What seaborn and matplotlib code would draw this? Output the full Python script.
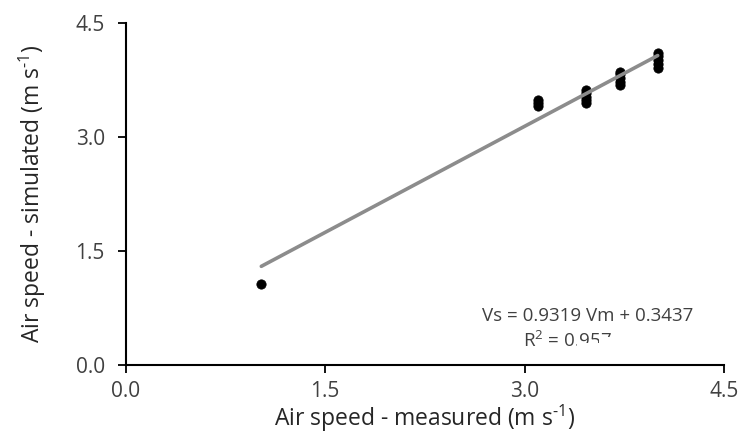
import numpy as np
import pandas as pd
import seaborn as sns
import matplotlib.pyplot as plt
from matplotlib.patches import Polygon

# measured vs simulated air speed (m s-1)
measured = [1.02,
            3.10, 3.10, 3.10,
            3.46, 3.46, 3.46, 3.46, 3.46,
            3.72, 3.72, 3.72, 3.72, 3.72,
            4.00, 4.00, 4.00, 4.00, 4.00]
simulated = [1.06,
             3.40, 3.44, 3.48,
             3.44, 3.49, 3.53, 3.58, 3.62,
             3.68, 3.72, 3.78, 3.83, 3.86,
             3.91, 3.96, 4.01, 4.06, 4.11]

slope = 0.9319
intercept = 0.3437
r2 = 0.957

df = pd.DataFrame({"measured": measured, "simulated": simulated})

sns.set_style("ticks")
plt.rcParams['font.family'] = ['Open Sans', 'DejaVu Sans']
plt.rcParams['mathtext.fontset'] = 'custom'
plt.rcParams['mathtext.rm'] = 'Open Sans'

fig, ax = plt.subplots(figsize=(7.39, 4.34), dpi=100)
fig.subplots_adjust(left=0.17, right=0.98, bottom=0.16, top=0.947)

# trend line from the reported equation
xl = np.array([min(measured), max(measured)])
ax.plot(xl, slope * xl + intercept, color="#8c8c8c", lw=2.6, zorder=3)
sns.scatterplot(data=df, x="measured", y="simulated", color="black",
                s=45, edgecolor="black", ax=ax, zorder=2)

ax.set_xlim(0, 4.5)
ax.set_ylim(0, 4.5)
ax.set_xticks([0, 1.5, 3.0, 4.5])
ax.set_yticks([0, 1.5, 3.0, 4.5])
ax.set_xticklabels(["0.0", "1.5", "3.0", "4.5"])
ax.set_yticklabels(["0.0", "1.5", "3.0", "4.5"])
ax.tick_params(labelsize=15, labelcolor="#404040", length=6, width=1.3,
               color="black", direction="out")
ax.tick_params(axis="y", pad=9)
ax.tick_params(axis="x", pad=6)
for s in ["left", "bottom"]:
    ax.spines[s].set_linewidth(1.5)
    ax.spines[s].set_color("black")
sns.despine(ax=ax)

ax.set_xlabel(r"Air speed - measured (m s$^{\text{-1}}$)", fontsize=16.5, color="#262626", labelpad=0.5)
ax.set_ylabel(r"Air speed - simulated (m s$^{\text{-1}}$)", fontsize=16.5, color="#262626", labelpad=20)

ax.text(3.47, 0.64, "Vs = 0.9319 Vm + 0.3437", ha="center", va="center",
        fontsize=13.5, color="#404040")
ax.text(3.32, 0.32, f"R$^2$ = {r2}", ha="center", va="center",
        fontsize=13.5, color="#404040", zorder=3)
# the R2 label is cut off at the bottom right in the original text box
mask = Polygon([[3.395, 0.15], [3.395, 0.29], [3.56, 0.29], [3.56, 0.36],
                [3.75, 0.36], [3.75, 0.15]],
               closed=True, facecolor="white", edgecolor="none", zorder=4)
ax.add_patch(mask)

plt.savefig("out.png", dpi=100)
